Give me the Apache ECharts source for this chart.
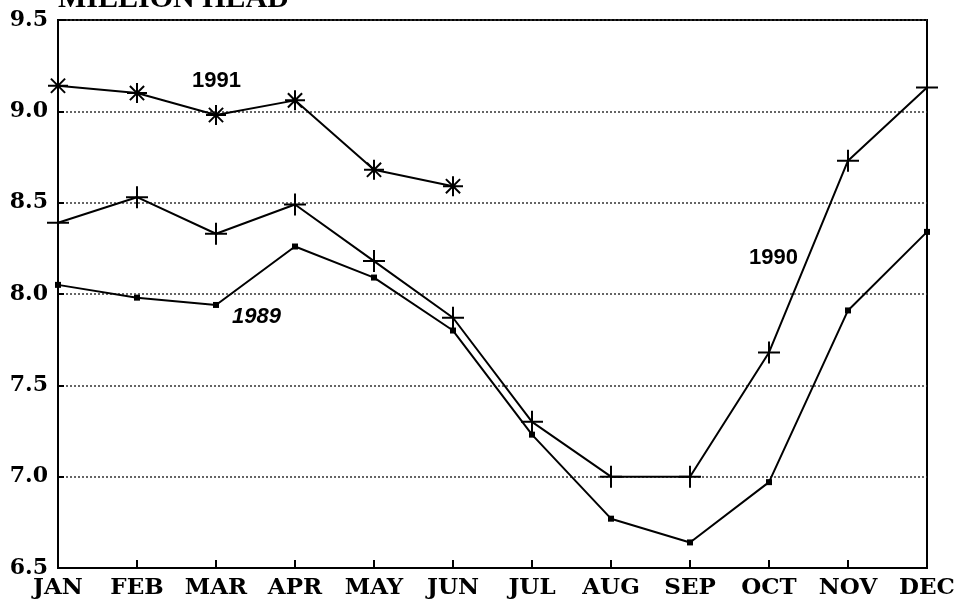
<!DOCTYPE html>
<html>
<head>
<meta charset="utf-8">
<script src="https://cdn.jsdelivr.net/npm/echarts@6/dist/echarts.min.js"></script>
<style>
  html, body { margin: 0; padding: 0; background: #fff; }
  #main { width: 959px; height: 601px; }
</style>
</head>
<body>
<div id="main"></div>
<script>
var months = ['JAN', 'FEB', 'MAR', 'APR', 'MAY', 'JUN', 'JUL', 'AUG', 'SEP', 'OCT', 'NOV', 'DEC'];
var yTicks = [6.5, 7.0, 7.5, 8.0, 8.5, 9.0, 9.5];

var head1989 = [8.05, 7.98, 7.94, 8.26, 8.09, 7.80, 7.23, 6.77, 6.64, 6.97, 7.91, 8.34];
var head1990 = [8.39, 8.53, 8.33, 8.49, 8.18, 7.87, 7.30, 7.00, 7.00, 7.68, 8.73, 9.13];
var head1991 = [9.14, 9.10, 8.98, 9.06, 8.68, 8.59];

var titleFont = '"Liberation Serif", "DejaVu Serif", serif';
var tickFont = '"DejaVu Serif", "Liberation Serif", serif';
var sansBold = '"Liberation Sans", Arial, sans-serif';

var asterisk = 'path://M0,-10L0,10M-10,0L10,0M-7.1,-7.1L7.1,7.1M-7.1,7.1L7.1,-7.1';
var plus = 'path://M0,-10L0,10M-10,0L10,0';

var myChart = echarts.init(document.getElementById('main'));

function lineSeries(name, data, symbol, size, filled) {
    return {
        name: name,
        type: 'line',
        data: data,
        symbol: symbol,
        symbolSize: size,
        showAllSymbol: true,
        clip: false,
        animation: false,
        lineStyle: { color: '#000', width: 2 },
        itemStyle: filled
            ? { color: '#000' }
            : { color: 'rgba(0,0,0,0)', borderColor: '#000', borderWidth: 2 },
        z: 3
    };
}

myChart.setOption({
    animation: false,
    backgroundColor: '#fff',
    grid: {
        left: 58,
        right: 32,
        top: 20,
        bottom: 33,
        show: true,
        borderColor: '#000',
        borderWidth: 2
    },
    graphic: [
        {
            type: 'text',
            left: 58,
            top: -16,
            style: { text: 'MILLION HEAD', font: 'bold 30px ' + titleFont, fill: '#000' }
        },
        {
            type: 'text',
            left: 192,
            top: 70,
            style: { text: '1991', font: 'bold 22px ' + sansBold, fill: '#000' }
        },
        {
            type: 'text',
            left: 749,
            top: 247,
            style: { text: '1990', font: 'bold 22px ' + sansBold, fill: '#000' }
        },
        {
            type: 'text',
            left: 232,
            top: 306,
            style: { text: '1989', font: 'italic bold 22px ' + sansBold, fill: '#000' }
        }
    ],
    xAxis: {
        type: 'category',
        data: months,
        boundaryGap: false,
        axisLine: { lineStyle: { color: '#000', width: 2 } },
        axisTick: { inside: true, length: 8, interval: 0, lineStyle: { color: '#000', width: 2 } },
        axisLabel: {
            interval: 0,
            margin: 9,
            color: '#000',
            fontFamily: tickFont,
            fontWeight: 'bold',
            fontSize: 23
        },
        splitLine: { show: false }
    },
    yAxis: {
        type: 'value',
        min: yTicks[0],
        max: yTicks[yTicks.length - 1],
        interval: 0.5,
        axisLine: { show: true, lineStyle: { color: '#000', width: 2 } },
        axisTick: { show: true, inside: true, length: 6, lineStyle: { color: '#000', width: 2 } },
        axisLabel: {
            margin: 10,
            color: '#000',
            fontFamily: tickFont,
            fontWeight: 'bold',
            fontSize: 22,
            formatter: function (v) { return v.toFixed(1); }
        },
        splitLine: {
            show: true,
            lineStyle: { color: '#333', width: 1.5, type: [2, 2] }
        }
    },
    series: [
        lineSeries('1989', head1989, 'rect', 6, true),
        lineSeries('1990', head1990, plus, 22, false),
        lineSeries('1991', head1991, asterisk, 20, false)
    ]
});
</script>
</body>
</html>
